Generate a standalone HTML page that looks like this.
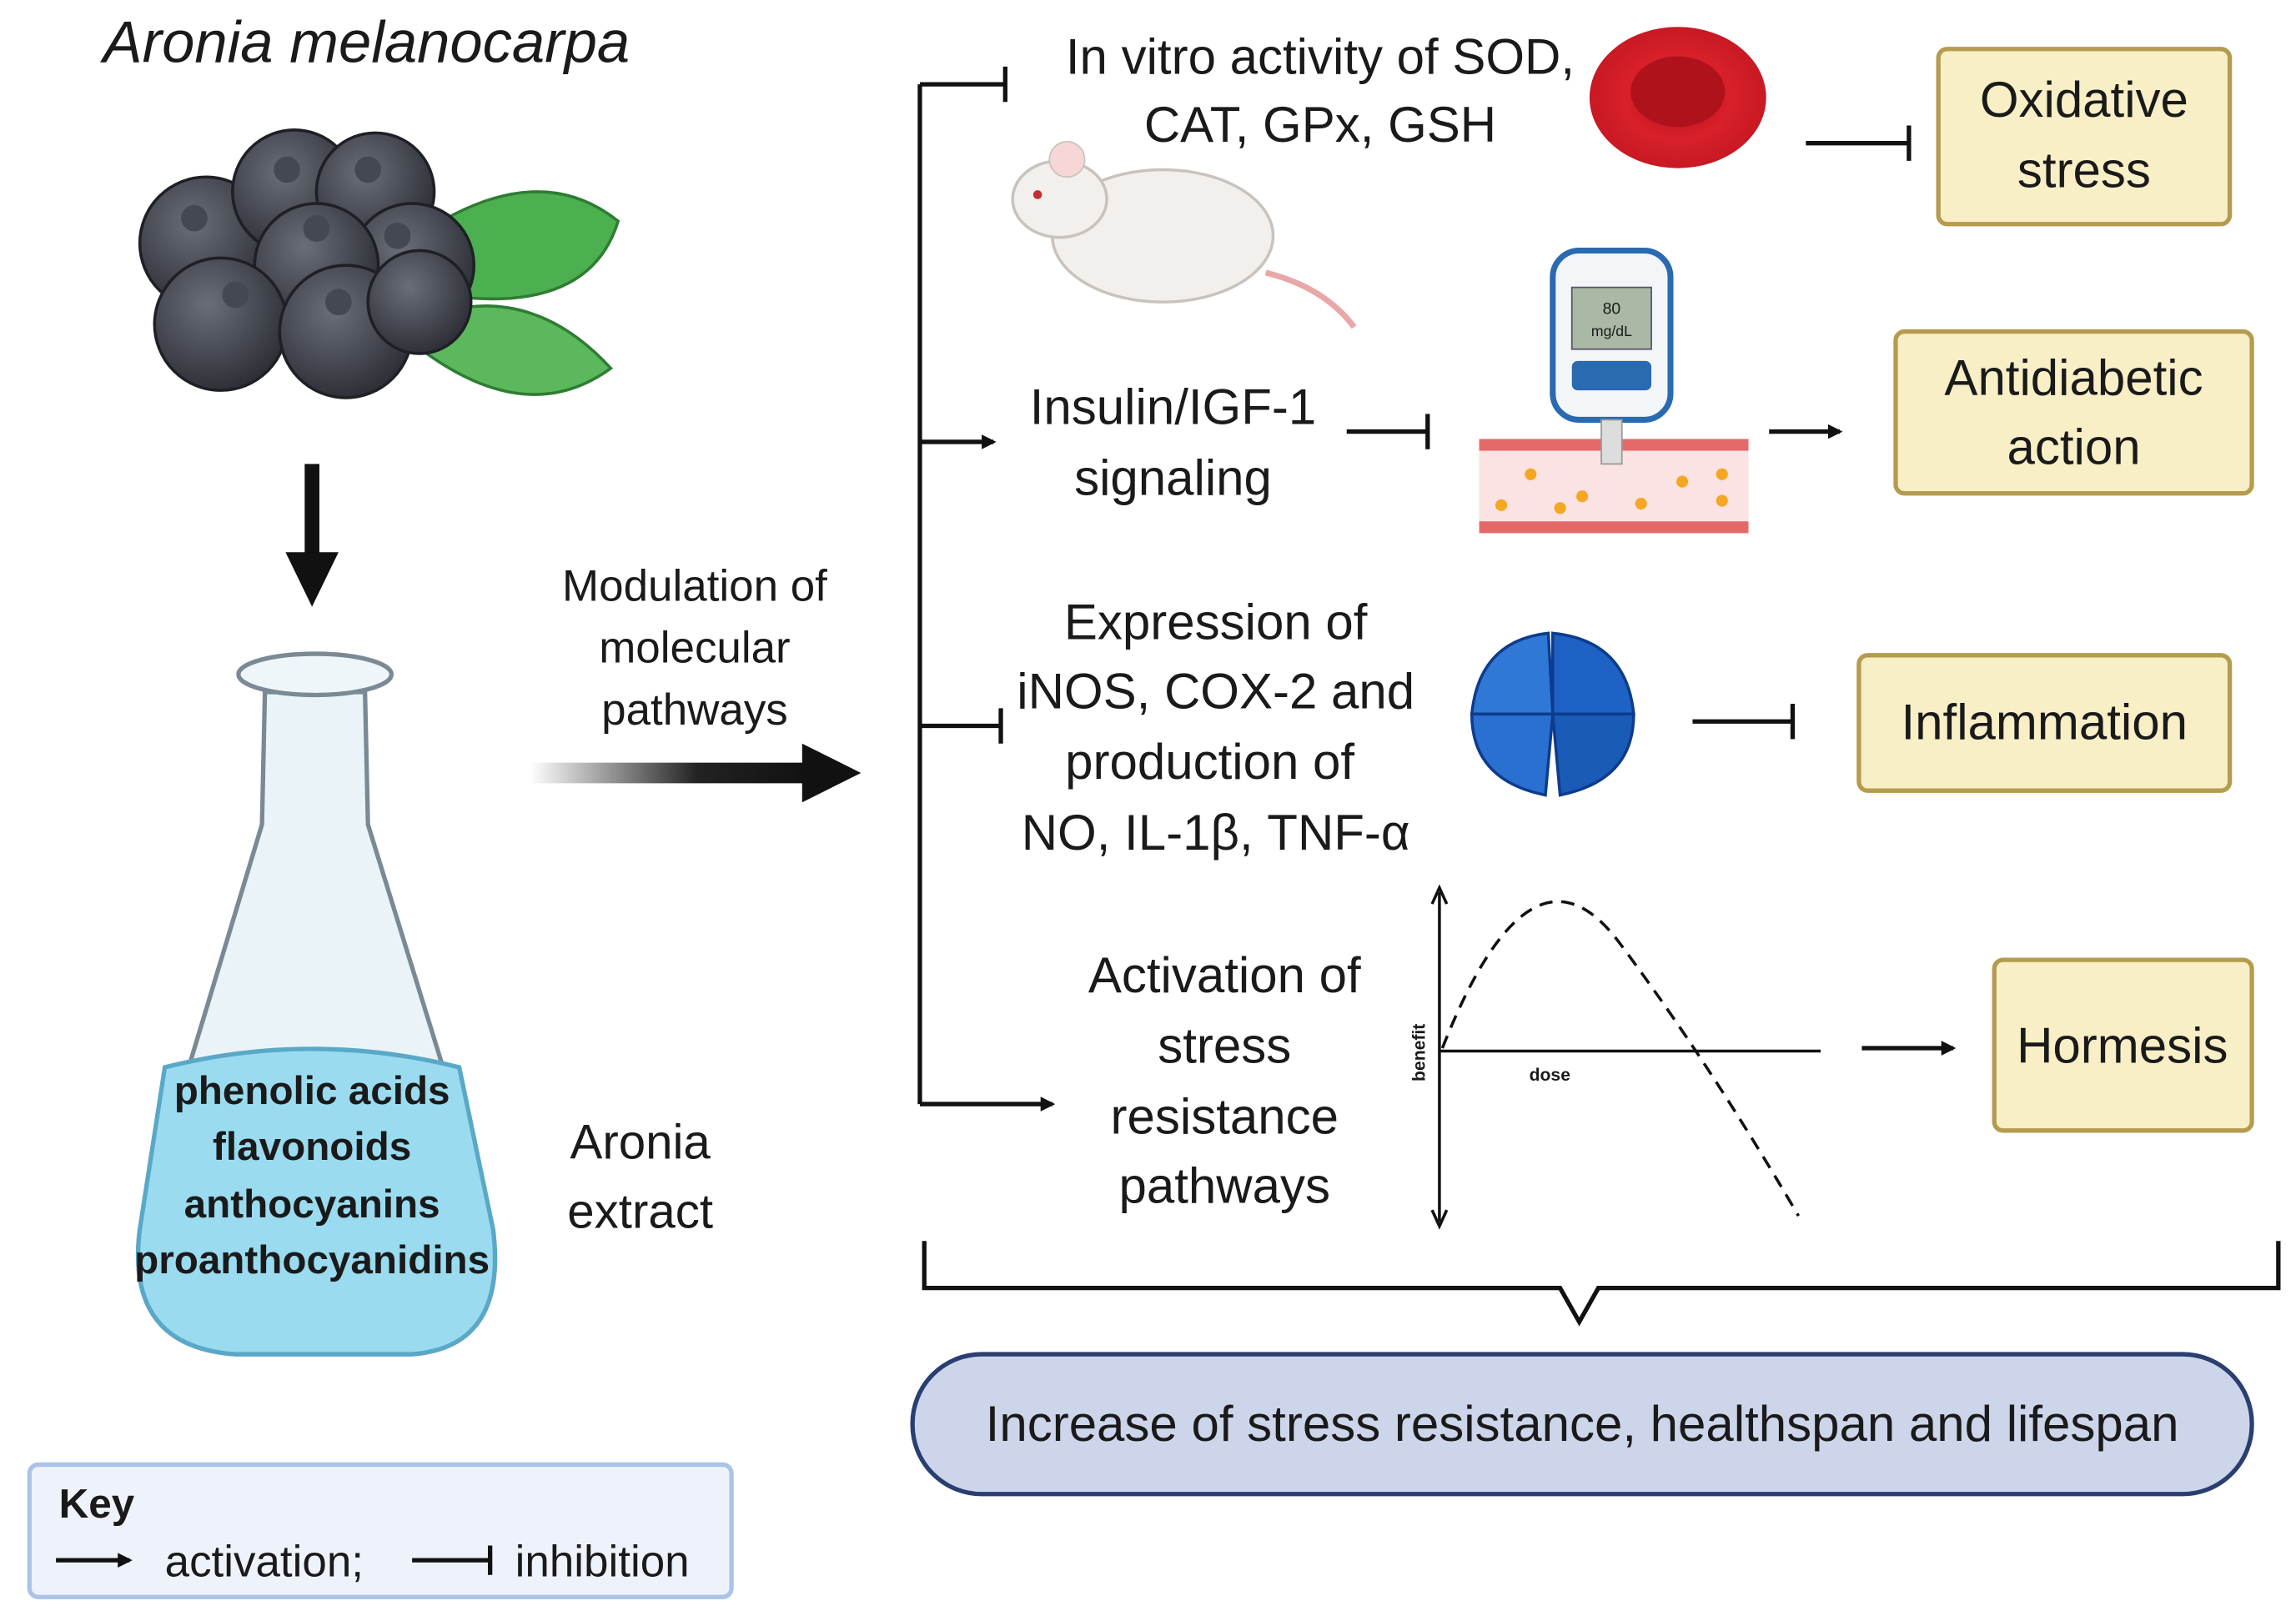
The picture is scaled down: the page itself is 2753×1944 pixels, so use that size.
<!DOCTYPE html>
<html><head><meta charset="utf-8"><style>
html,body{margin:0;padding:0;background:#fff;}
svg{display:block;}
text{font-family:"Liberation Sans",sans-serif;fill:#1a1a1a;}
</style></head><body>
<svg width="2753" height="1944" viewBox="0 0 1560 1101" xmlns="http://www.w3.org/2000/svg">
<defs>
<linearGradient id="ga" x1="0" x2="1"><stop offset="0" stop-color="#fff"/><stop offset="0.6" stop-color="#222"/><stop offset="1" stop-color="#111"/></linearGradient>
<radialGradient id="berry" cx="0.4" cy="0.35" r="0.7"><stop offset="0" stop-color="#6a6e78"/><stop offset="1" stop-color="#2a2c33"/></radialGradient>
<radialGradient id="rbc" cx="0.5" cy="0.5" r="0.6"><stop offset="0" stop-color="#b0101a"/><stop offset="0.5" stop-color="#d8202a"/><stop offset="1" stop-color="#c01520"/></radialGradient>
<marker id="ah" markerWidth="10" markerHeight="10" refX="8" refY="5" orient="auto" markerUnits="userSpaceOnUse"><path d="M0,0 L10,5 L0,10 z" fill="#111"/></marker>
</defs>

<text x="70" y="42" font-size="40" font-style="italic">Aronia melanocarpa</text>
<path d="M300,150 Q370,110 420,150 Q400,215 300,200 Z" fill="#4caf50" stroke="#2e7d32" stroke-width="2"/>
<path d="M290,215 Q360,190 415,250 Q360,290 290,240 Z" fill="#5cb85c" stroke="#2e7d32" stroke-width="2"/>
<g stroke="#1e2026" stroke-width="2" fill="url(#berry)">
<circle cx="140" cy="165" r="45"/><circle cx="200" cy="130" r="42"/><circle cx="255" cy="130" r="40"/>
<circle cx="280" cy="180" r="42"/><circle cx="215" cy="180" r="42"/><circle cx="150" cy="220" r="45"/>
<circle cx="235" cy="225" r="45"/><circle cx="285" cy="205" r="35"/>
</g>
<g fill="#444852"><circle cx="132" cy="148" r="9"/><circle cx="195" cy="115" r="9"/><circle cx="250" cy="115" r="9"/><circle cx="215" cy="155" r="9"/><circle cx="270" cy="160" r="9"/><circle cx="160" cy="200" r="9"/><circle cx="230" cy="205" r="9"/></g>
<rect x="207" y="315" width="10" height="65" fill="#111"/>
<path d="M194,375 L230,375 L212,412 Z" fill="#111"/>
<path d="M180,470 L178,560 L95,835 Q85,915 160,920 L280,920 Q345,915 335,835 L250,560 L248,470 Z" fill="#eaf4f8" stroke="#7a8a95" stroke-width="3"/>
<path d="M112,725 Q212,700 312,725 L335,835 Q345,915 280,920 L160,920 Q85,915 95,835 Z" fill="#9adbef" stroke="#5aa8c8" stroke-width="3"/>
<ellipse cx="214" cy="458" rx="52" ry="14" fill="#eef6f9" stroke="#7a8a95" stroke-width="3"/>
<g font-size="27" font-weight="bold" text-anchor="middle">
<text x="212" y="750">phenolic acids</text><text x="212" y="788">flavonoids</text>
<text x="212" y="827">anthocyanins</text><text x="212" y="865">proanthocyanidins</text></g>
<g font-size="33" text-anchor="middle"><text x="435" y="787">Aronia</text><text x="435" y="834">extract</text></g>
<g font-size="30" text-anchor="middle"><text x="472" y="408">Modulation of</text><text x="472" y="450">molecular</text><text x="472" y="492">pathways</text></g>
<rect x="360" y="518" width="190" height="14" fill="url(#ga)"/>
<path d="M545,505 L585,525 L545,545 Z" fill="#111"/>

<g stroke="#111" stroke-width="3" fill="none">
<path d="M625,57 L625,750"/>
<path d="M625,57 L683,57 M683,45 L683,69"/>
<path d="M625,300 L675,300" marker-end="url(#ah)"/>
<path d="M625,493 L680,493 M680,481 L680,505"/>
<path d="M625,750 L715,750" marker-end="url(#ah)"/>
<path d="M1227,97 L1297,97 M1297,85 L1297,109"/>
<path d="M915,293 L970,293 M970,281 L970,305"/>
<path d="M1202,293 L1250,293" marker-end="url(#ah)"/>
<path d="M1150,490 L1218,490 M1218,478 L1218,502"/>
<path d="M1265,712 L1327,712" marker-end="url(#ah)"/>
<path d="M628,843 L628,875 L1060,875 L1073,898 L1086,875 L1548,875 L1548,843"/>
</g>

<g font-size="34" text-anchor="middle">
<text x="897" y="50">In vitro  activity of SOD,</text><text x="897" y="96">CAT, GPx, GSH</text>
<text x="797" y="288">Insulin/IGF-1</text><text x="797" y="336">signaling</text>
<text x="826" y="434">Expression of</text><text x="826" y="481">iNOS, COX-2 and</text><text x="822" y="529">production of</text><text x="826" y="577">NO, IL-1β, TNF-α</text>
<text x="832" y="674">Activation of</text><text x="832" y="722">stress</text><text x="832" y="770">resistance</text><text x="832" y="817">pathways</text>
</g>

<ellipse cx="790" cy="160" rx="75" ry="45" fill="#f2efec" stroke="#c9c3bd" stroke-width="2"/>
<ellipse cx="720" cy="135" rx="32" ry="26" fill="#f2efec" stroke="#c9c3bd" stroke-width="2"/>
<ellipse cx="725" cy="108" rx="12" ry="12" fill="#f6d6d6" stroke="#c9c3bd"/>
<circle cx="705" cy="132" r="3" fill="#c03030"/>
<path d="M860,185 Q900,195 920,222" stroke="#e9a8a8" stroke-width="4" fill="none"/>
<ellipse cx="1140" cy="66" rx="60" ry="48" fill="url(#rbc)"/>
<ellipse cx="1140" cy="62" rx="32" ry="24" fill="#b0121c"/>
<rect x="1005" y="300" width="183" height="62" fill="#fbe3e3"/>
<rect x="1005" y="298" width="183" height="8" fill="#e46a6a"/>
<rect x="1005" y="354" width="183" height="8" fill="#e46a6a"/>
<g fill="#f5a623"><circle cx="1040" cy="322" r="4"/><circle cx="1075" cy="337" r="4"/><circle cx="1115" cy="342" r="4"/><circle cx="1143" cy="327" r="4"/><circle cx="1170" cy="340" r="4"/><circle cx="1020" cy="343" r="4"/><circle cx="1170" cy="322" r="4"/><circle cx="1060" cy="345" r="4"/></g>
<rect x="1055" y="170" width="80" height="115" rx="18" fill="#f3f6f9" stroke="#2a6ab0" stroke-width="4"/>
<rect x="1068" y="195" width="54" height="42" fill="#aab9a5" stroke="#556" stroke-width="1"/>
<text x="1095" y="213" font-size="11" text-anchor="middle">80</text><text x="1095" y="228" font-size="10" text-anchor="middle">mg/dL</text>
<rect x="1068" y="245" width="54" height="20" rx="4" fill="#2a6ab0"/>
<rect x="1088" y="285" width="14" height="30" fill="#ddd" stroke="#999"/>
<g stroke="#0d3c8c" stroke-width="2">
<path d="M1000,485 Q1005,435 1052,430 L1055,485 Z" fill="#2f78d6"/>
<path d="M1055,430 Q1105,435 1110,485 L1055,485 Z" fill="#1d62c4"/>
<path d="M1000,485 L1055,485 L1050,540 Q1000,530 1000,485 Z" fill="#2a70d0"/>
<path d="M1055,485 L1110,485 Q1110,530 1060,540 Z" fill="#1b5bb8"/>
</g>
<g stroke="#111" stroke-width="2" fill="none">
<path d="M978,606 L978,830"/><path d="M973,614 L978,603 L983,614 M973,822 L978,833 L983,822"/>
<path d="M978,714 L1237,714"/>
<path d="M980,712 Q1040,560 1100,640 Q1160,720 1222,826" stroke-dasharray="9,6"/>
</g>
<text x="968" y="715" font-size="12" font-weight="bold" transform="rotate(-90 968 715)" text-anchor="middle">benefit</text>
<text x="1053" y="734" font-size="12" font-weight="bold" text-anchor="middle">dose</text>

<g fill="#f8efc6" stroke="#b59b4e" stroke-width="3">
<rect x="1317" y="33" width="198" height="119" rx="6"/>
<rect x="1288" y="225" width="242" height="110" rx="6"/>
<rect x="1263" y="445" width="252" height="92" rx="6"/>
<rect x="1355" y="652" width="175" height="116" rx="6"/>
</g>
<g font-size="34" text-anchor="middle">
<text x="1416" y="79">Oxidative</text><text x="1416" y="127">stress</text>
<text x="1409" y="268">Antidiabetic</text><text x="1409" y="315">action</text>
<text x="1389" y="502">Inflammation</text>
<text x="1442" y="722">Hormesis</text>
</g>
<rect x="620" y="920" width="910" height="95" rx="47" fill="#cdd5ea" stroke="#2a3f70" stroke-width="3"/>
<text x="1075" y="979" font-size="34" text-anchor="middle">Increase of stress resistance, healthspan and lifespan</text>

<rect x="20" y="995" width="477" height="90" rx="6" fill="#eef3fb" stroke="#a9c4e8" stroke-width="3"/>
<text x="40" y="1031" font-size="28" font-weight="bold">Key</text>
<path d="M38,1060 L88,1060" stroke="#111" stroke-width="3" marker-end="url(#ah)"/>
<text x="112" y="1071" font-size="30">activation;</text>
<path d="M280,1060 L333,1060 M333,1050 L333,1070" stroke="#111" stroke-width="3"/>
<text x="350" y="1071" font-size="30">inhibition</text>
</svg>
</body></html>
